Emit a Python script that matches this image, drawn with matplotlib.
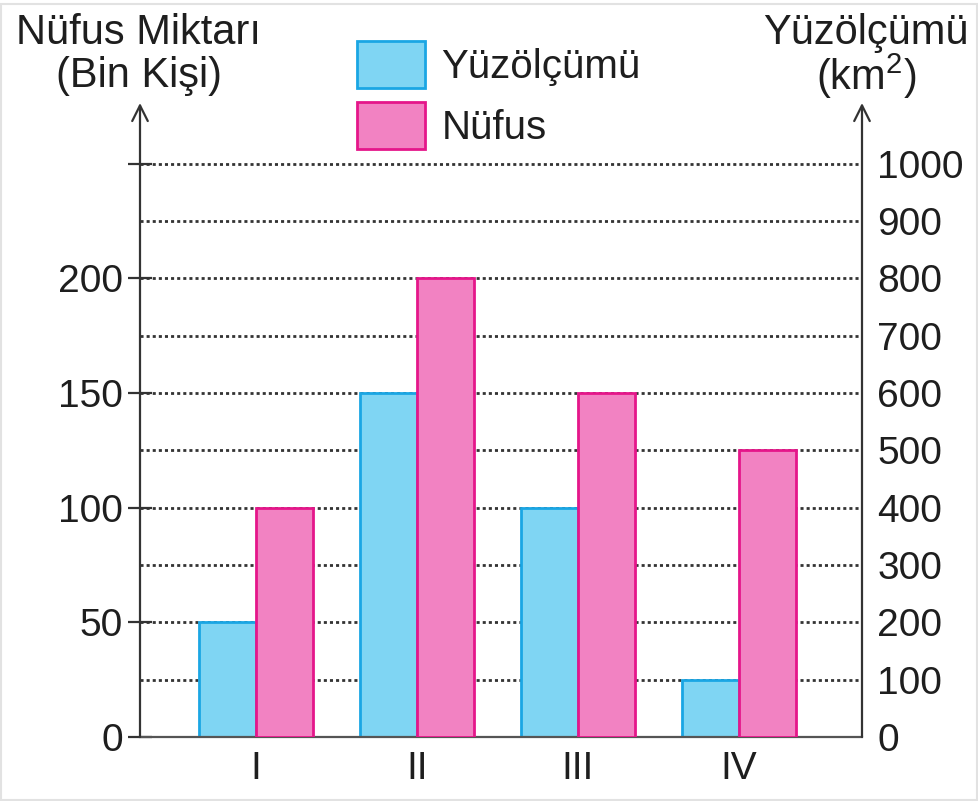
import matplotlib
matplotlib.use("Agg")
import matplotlib.pyplot as plt
from matplotlib.patches import Rectangle

plt.rcParams['font.family'] = ['Liberation Sans', 'DejaVu Sans']
plt.rcParams['mathtext.fontset'] = 'custom'
plt.rcParams['mathtext.rm'] = 'Liberation Sans'

regions = ['I', 'II', 'III', 'IV']
area_km2 = [200, 600, 400, 100]        # Yüzölçümü, right axis
population = [100, 200, 150, 125]      # Nüfus (bin kişi), left axis
left_ticks = [0, 50, 100, 150, 200, 250]
left_labels = ['0', '50', '100', '150', '200', '']
right_ticks = [0, 100, 200, 300, 400, 500, 600, 700, 800, 900, 1000]
grid_levels = right_ticks[1:]

blue_fill, blue_edge = '#7fd5f3', '#1aa6e4'
pink_fill, pink_edge = '#f282c2', '#e5168a'
axis_col = '#333333'
text_col = '#1e1e1e'

W, H = 979, 801
fig = plt.figure(figsize=(W / 100, H / 100), dpi=100)
fig.patch.set_facecolor('white')
fig.patches.append(Rectangle((1 / W, 1 / H), 1 - 3 / W, 1 - 5 / H, transform=fig.transFigure,
                             fill=False, edgecolor='#e2e2e2', lw=1.5))

x0, x1, y0, y1 = 140, 862, 737, 103
ax = fig.add_axes([x0 / W, (H - y0) / H, (x1 - x0) / W, (y0 - y1) / H])
ax2 = ax.twinx()
ax.set_zorder(ax2.get_zorder() + 1)
ax.patch.set_visible(False)

ymax = 276.5
ax.set_ylim(0, ymax)
ax2.set_ylim(0, ymax * 4)
ax.set_xlim(-0.72, 3.764)

x = range(len(regions))
w = 0.354
ax2.bar([i - w / 2 for i in x], area_km2, width=w, color=blue_fill, edgecolor=blue_edge,
        lw=2, zorder=3, label='Yüzölçümü')
ax.bar([i + w / 2 for i in x], population, width=w, color=pink_fill, edgecolor=pink_edge,
       lw=2, zorder=3, label='Nüfus')

for v in grid_levels:
    ax2.axhline(v, color='#333333', lw=2.0, linestyle=(0, (1.1, 1.1)), zorder=1)

for a in (ax, ax2):
    for s in a.spines.values():
        s.set_visible(False)
ax.spines['bottom'].set_visible(True)
ax.spines['bottom'].set_color('#555555')
ax.spines['bottom'].set_linewidth(1.6)

for xf in (0, 1):
    ax.annotate('', xy=(xf, 1), xytext=(xf, 0), xycoords='axes fraction',
                arrowprops=dict(arrowstyle='->', lw=1.6, color=axis_col, mutation_scale=28,
                                shrinkA=0, shrinkB=0))

ax.set_yticks(left_ticks)
ax.set_yticklabels(left_labels)
ax.tick_params(axis='y', direction='inout', length=17, width=1.6, color=axis_col,
               labelsize=28, pad=4, labelcolor=text_col)
ax2.set_yticks(right_ticks)
ax2.tick_params(axis='y', length=0, labelsize=28, pad=11, labelcolor=text_col)

ax.set_xticks(list(x))
ax.set_xticklabels(regions)
ax.tick_params(axis='x', length=0, labelsize=28, pad=10, labelcolor=text_col)

h1, l1 = ax2.get_legend_handles_labels()
h2, l2 = ax.get_legend_handles_labels()
ax.legend(h1 + h2, l1 + l2, loc='upper left', bbox_to_anchor=(357 / W, 1 - 41 / H),
          bbox_transform=fig.transFigure, frameon=False, fontsize=29, labelcolor=text_col,
          handlelength=1.7, handleheight=1.4, handletextpad=0.4, labelspacing=0.36,
          borderpad=0, borderaxespad=0)

fig.text(139 / W, 1 - 33 / H, 'Nüfus Miktarı', ha='center', va='center', fontsize=30, color=text_col)
fig.text(139 / W, 1 - 76 / H, '(Bin Kişi)', ha='center', va='center', fontsize=30, color=text_col)
fig.text(866 / W, 1 - 33 / H, 'Yüzölçümü', ha='center', va='center', fontsize=30, color=text_col)
fig.text(866 / W, 1 - 76 / H, '(km$^2$)', ha='center', va='center', fontsize=30, color=text_col)

fig.savefig('out.png', dpi=100)
